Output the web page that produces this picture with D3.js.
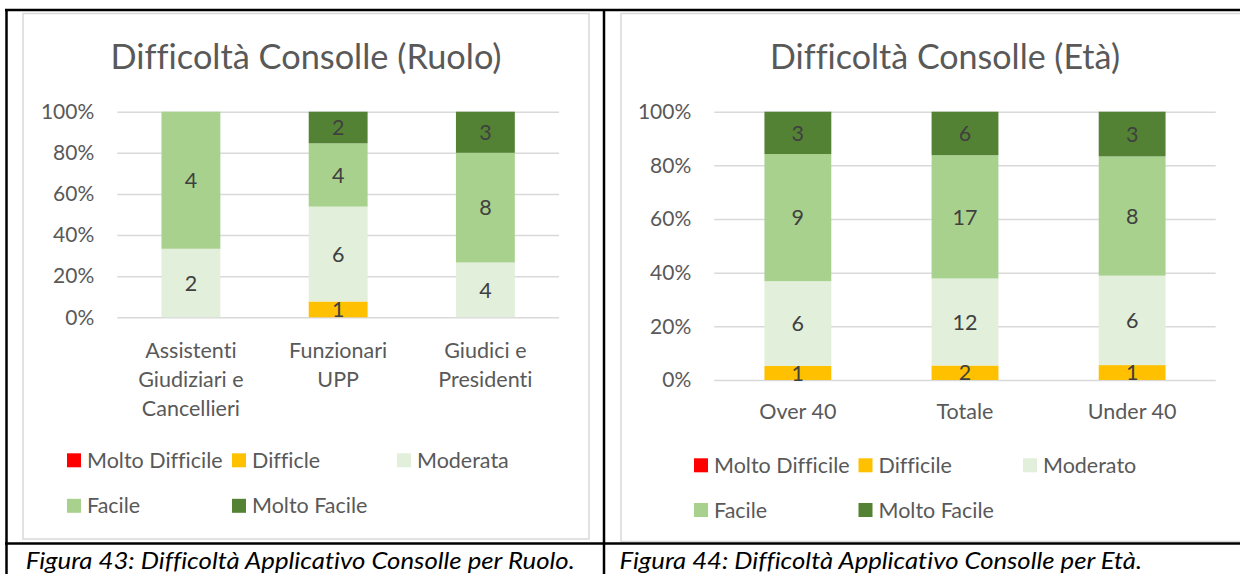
<!DOCTYPE html>
<html>
<head>
<meta charset="utf-8">
<script src="https://cdn.jsdelivr.net/npm/d3@7"></script>
<style>
  body { margin: 0; background: #fff; }
  svg text { font-family: Lato, "Open Sans", sans-serif; font-variant-ligatures: none; font-feature-settings: "liga" 0, "clig" 0; }
</style>
</head>
<body>
<svg id="chart" width="1240" height="574"></svg>
<script>
// series colours (same in both charts)
const seriesColors = ["#FF0000", "#FFC000", "#E2EFDA", "#A9D18E", "#548235"];
const percentTicks = [0, 0.2, 0.4, 0.6, 0.8, 1];

// chart 1 - per ruolo
const roleTitle = "Difficoltà Consolle (Ruolo)";
const roleCategories = ["Assistenti\nGiudiziari e\nCancellieri", "Funzionari\nUPP", "Giudici e\nPresidenti"];
const roleLegend = ["Molto Difficile", "Difficle", "Moderata", "Facile", "Molto Facile"];
const roleMoltoDifficile = [0, 0, 0];
const roleDifficile = [0, 1, 0];
const roleModerata = [2, 6, 4];
const roleFacile = [4, 4, 8];
const roleMoltoFacile = [0, 2, 3];
const roleCaption = "Figura 43: Difficoltà Applicativo Consolle per Ruolo.";

// chart 2 - per eta
const ageTitle = "Difficoltà Consolle (Età)";
const ageCategories = ["Over 40", "Totale", "Under 40"];
const ageLegend = ["Molto Difficile", "Difficile", "Moderato", "Facile", "Molto Facile"];
const ageMoltoDifficile = [0, 0, 0];
const ageDifficile = [1, 2, 1];
const ageModerato = [6, 12, 6];
const ageFacile = [9, 17, 8];
const ageMoltoFacile = [3, 6, 3];
const ageCaption = "Figura 44: Difficoltà Applicativo Consolle per Età.";

const svg = d3.select("#chart");

function drawChart(cfg) {
  var keys = cfg.legend;
  var rows = cfg.categories.map(function (c, i) {
    var r = { cat: c };
    cfg.series.forEach(function (s, j) { r[keys[j]] = s[i]; });
    return r;
  });

  var stack = d3.stack().keys(keys).offset(d3.stackOffsetExpand)(rows);

  var x = d3.scaleBand()
    .domain(cfg.categories)
    .range([cfg.plot.x0, cfg.plot.x1])
    .paddingInner(0.6)
    .paddingOuter(0.3);
  var y = d3.scaleLinear().domain([0, 1]).range([cfg.plot.y1, cfg.plot.y0]);

  // chart frame
  svg.append("rect")
    .attr("x", cfg.frame.x).attr("y", cfg.frame.y)
    .attr("width", cfg.frame.w).attr("height", cfg.frame.h)
    .attr("fill", "#fff").attr("stroke", "#d9d9d9").attr("stroke-width", 1.5);

  svg.append("text")
    .attr("x", cfg.titleX).attr("y", 69)
    .attr("text-anchor", "middle")
    .attr("font-size", 34)
    .attr("fill", "#595959")
    .attr("textLength", cfg.titleW)
    .attr("lengthAdjust", "spacingAndGlyphs")
    .text(cfg.title);

  var yAxis = svg.append("g")
    .attr("transform", "translate(" + cfg.plot.x0 + ",0)")
    .call(d3.axisLeft(y)
      .tickValues(percentTicks)
      .tickFormat(d3.format(".0%"))
      .tickSize(-(cfg.plot.x1 - cfg.plot.x0))
      .tickPadding(23));
  yAxis.select(".domain").remove();
  yAxis.selectAll(".tick line").attr("stroke", "#d9d9d9").attr("stroke-width", 1.5);
  yAxis.selectAll(".tick text")
    .attr("font-size", 21)
    .attr("fill", "#595959")
    .style("font-family", "Lato, sans-serif");

  var layer = svg.append("g").selectAll("g")
    .data(stack)
    .enter().append("g")
    .attr("fill", function (d, i) { return cfg.colors[i]; });

  layer.selectAll("rect")
    .data(function (d) { return d; })
    .enter().append("rect")
    .attr("x", function (d) { return x(d.data.cat); })
    .attr("width", x.bandwidth())
    .attr("y", function (d) { return y(d[1]); })
    .attr("height", function (d) { return y(d[0]) - y(d[1]); });

  // data labels
  stack.forEach(function (s) {
    svg.append("g").selectAll("text")
      .data(s.filter(function (d) { return d.data[s.key] > 0; }))
      .enter().append("text")
      .attr("x", function (d) { return x(d.data.cat) + x.bandwidth() / 2; })
      .attr("y", function (d) { return y((d[0] + d[1]) / 2); })
      .attr("dy", "0.36em")
      .attr("text-anchor", "middle")
      .attr("font-size", 21.5)
      .attr("fill", "#404040")
      .text(function (d) { return d.data[s.key]; });
  });

  // category labels
  var cats = svg.append("g").selectAll("text")
    .data(cfg.categories)
    .enter().append("text")
    .attr("text-anchor", "middle")
    .attr("font-size", 21.5)
    .attr("fill", "#595959");
  cats.selectAll("tspan")
    .data(function (d) { return d.split("\n").map(function (t) { return { t: t, c: d }; }); })
    .enter().append("tspan")
    .attr("x", function (d) { return x(d.c) + x.bandwidth() / 2; })
    .attr("y", function (d, i) { return cfg.catY + i * 29; })
    .text(function (d) { return d.t; });

  // legend
  var leg = svg.append("g").selectAll("g")
    .data(keys)
    .enter().append("g")
    .attr("transform", function (d, i) {
      return "translate(" + (cfg.legendX + (i % 3) * cfg.legendStep) + "," + cfg.legendRows[Math.floor(i / 3)] + ")";
    });
  leg.append("rect")
    .attr("x", 0).attr("y", -7).attr("width", 14).attr("height", 14)
    .attr("fill", function (d, i) { return cfg.colors[i]; });
  leg.append("text")
    .attr("x", 20).attr("y", 0).attr("dy", "0.35em")
    .attr("font-size", 21.5)
    .attr("fill", "#595959")
    .text(function (d) { return d; });

  svg.append("text")
    .attr("x", cfg.captionX).attr("y", 568.5)
    .attr("font-size", 24)
    .attr("font-style", "italic")
    .attr("fill", "#000")
    .attr("textLength", cfg.captionW)
    .attr("lengthAdjust", "spacingAndGlyphs")
    .text(cfg.caption);
}

drawChart({
  title: roleTitle, titleX: 306, titleW: 391,
  categories: roleCategories, legend: roleLegend, colors: seriesColors,
  series: [roleMoltoDifficile, roleDifficile, roleModerata, roleFacile, roleMoltoFacile],
  frame: { x: 23, y: 13.5, w: 566, h: 525.5 },
  plot: { x0: 117.3, x1: 559, y0: 111.7, y1: 317.3 },
  catY: 357.5,
  legendX: 67, legendStep: 165, legendRows: [460.3, 505.8],
  caption: roleCaption, captionX: 25.7, captionW: 549
});

drawChart({
  title: ageTitle, titleX: 945, titleW: 350,
  categories: ageCategories, legend: ageLegend, colors: seriesColors,
  series: [ageMoltoDifficile, ageDifficile, ageModerato, ageFacile, ageMoltoFacile],
  frame: { x: 621, y: 13.5, w: 660, h: 528 },
  plot: { x0: 714.3, x1: 1215.7, y0: 111.7, y1: 380 },
  catY: 419,
  legendX: 694, legendStep: 164.5, legendRows: [465.3, 510],
  caption: ageCaption, captionX: 619.5, captionW: 522.5
});

// table borders around the two figures
var borders = [
  [5, 10, 1240, 10],
  [6.5, 9, 6.5, 574],
  [604, 9, 604, 574],
  [5, 543.5, 1240, 543.5]
];
svg.append("g").selectAll("line")
  .data(borders)
  .enter().append("line")
  .attr("x1", function (d) { return d[0]; })
  .attr("y1", function (d) { return d[1]; })
  .attr("x2", function (d) { return d[2]; })
  .attr("y2", function (d) { return d[3]; })
  .attr("stroke", "#000")
  .attr("stroke-width", 2.5);
</script>
</body>
</html>
